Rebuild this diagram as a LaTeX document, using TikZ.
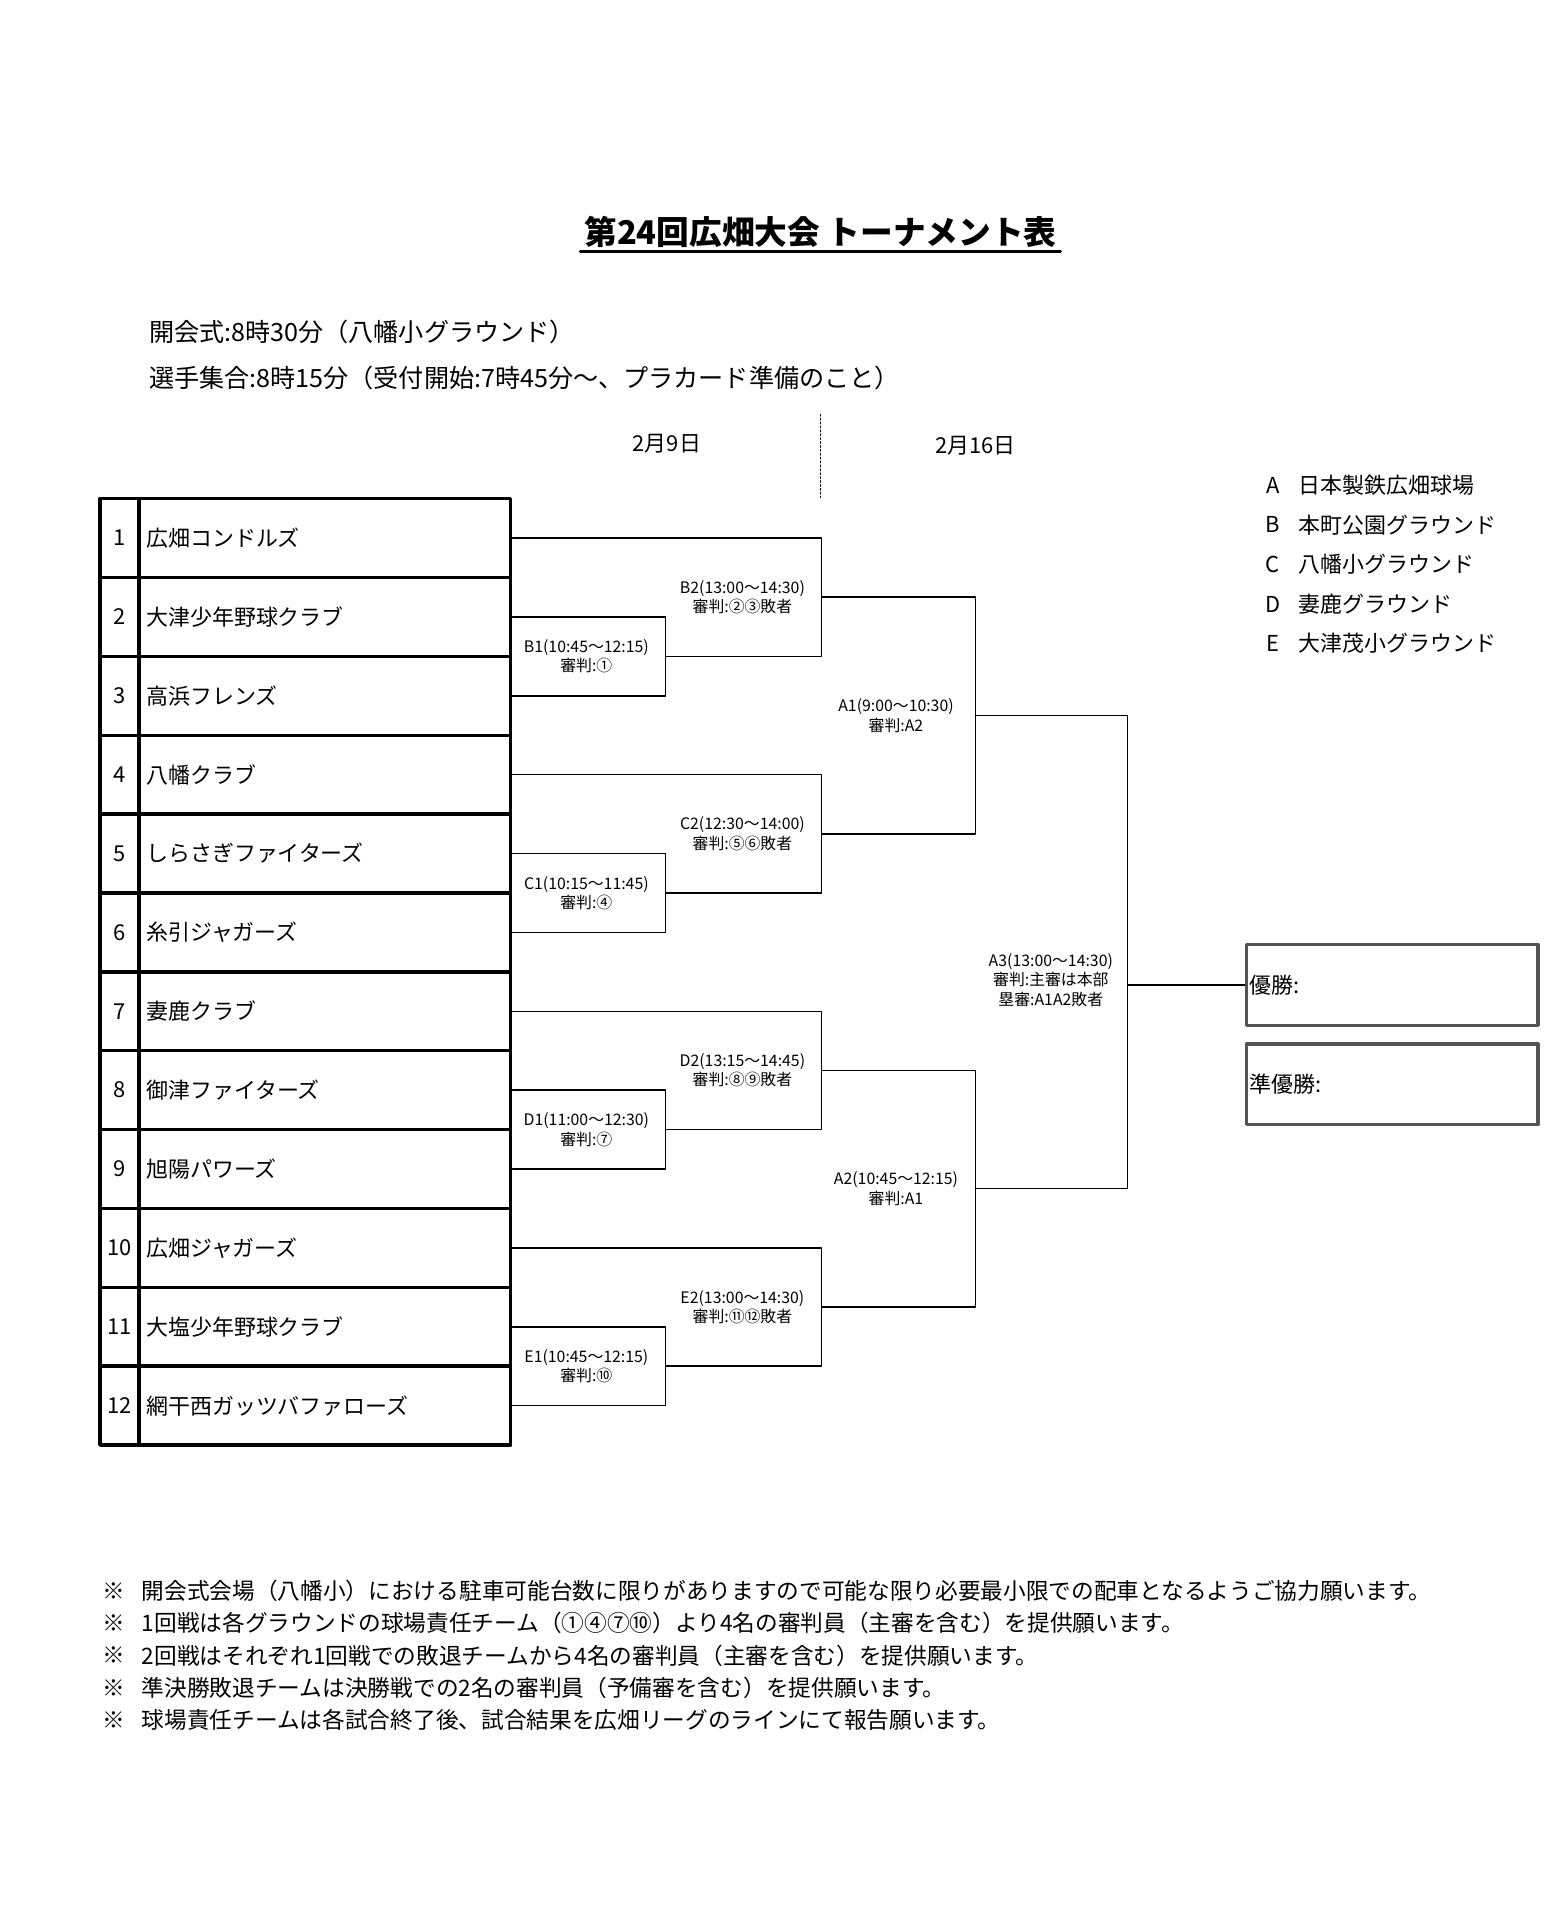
\documentclass[tikz,border=0pt]{standalone}
\usepackage{fontspec}
\setmainfont{Noto Sans CJK JP}
\usepackage{tikz}
\usetikzlibrary{positioning,calc}
\definecolor{boxgray}{rgb}{0.33,0.33,0.33}

\begin{document}
\begin{tikzpicture}[line cap=round,line join=round,x=0.5pt,y=-0.5pt,
    wire/.style={line width=0.6pt},
    cell/.style={draw,line width=1.4pt,minimum height=32.35pt,inner sep=0pt,font=\fontsize{9}{10}\selectfont},
    namecell/.style={cell,minimum width=152.5pt,text width=146.5pt,align=left},
    numcell/.style={cell,minimum width=16pt},
    gamelbl/.style={align=center,inner sep=0pt,font=\fontsize{6.5}{8}\selectfont},
    resultbox/.style={draw=boxgray,line width=1.4pt,minimum width=119.5pt,minimum height=33pt,text width=117pt,align=left,inner sep=1pt,font=\fontsize{9}{10}\selectfont},
    info/.style={anchor=west,inner sep=0pt,font=\fontsize{10.3}{12}\selectfont},
    note/.style={anchor=west,inner sep=0pt,font=\fontsize{9.3}{11}\selectfont}]
    \useasboundingbox (0,0) rectangle (1280,1575);

    % title and times
    \node[font=\bfseries\fontsize{13.4}{16}\selectfont,inner sep=1.5pt] (title) at (673,190) {第24回広畑大会 トーナメント表};
    \draw[line width=1.1pt] (title.south west) -- (title.south east);
    \node[info] (opening) at (122,272) {開会式:8時30分（八幡小グラウンド）};
    \node[info] (gather) at (122,310) {選手集合:8時15分（受付開始:7時45分〜、プラカード準備のこと）};

    % days
    \node[font=\fontsize{9}{10}\selectfont] (day1) at (547,364) {2月9日};
    \node[font=\fontsize{9}{10}\selectfont] (day2) at (800,366) {2月16日};
    \draw[densely dotted,line width=0.6pt] (673,340) -- (673,408);

    % grounds
    \foreach \k/\g [count=\j] in {A/日本製鉄広畑球場,B/本町公園グラウンド,C/八幡小グラウンド,D/妻鹿グラウンド,E/大津茂小グラウンド}
    {
      \node[font=\fontsize{9}{10}\selectfont] (key\k) at (1044,{398+32.5*(\j-1)}) {\k};
      \node[anchor=west,inner sep=0pt,font=\fontsize{9}{10}\selectfont] (ground\k) at (1065,{398+32.5*(\j-1)}) {\g};
    }

    % teams
    \foreach \i/\nm in {1/広畑コンドルズ,2/大津少年野球クラブ,3/高浜フレンズ,4/八幡クラブ,5/しらさぎファイターズ,6/糸引ジャガーズ,7/妻鹿クラブ,8/御津ファイターズ,9/旭陽パワーズ,10/広畑ジャガーズ,11/大塩少年野球クラブ,12/網干西ガッツバファローズ}
    {
      \node[numcell] (n\i) at (98,{441.35+64.7*(\i-1)}) {\i};
      \node[namecell] (t\i) at (266.5,{441.35+64.7*(\i-1)}) {\nm};
    }

    % bracket columns
    \coordinate (r1) at (546,0);
    \coordinate (r2) at (674,0);
    \coordinate (r3) at (800,0);
    \coordinate (r4) at (925,0);

    \coordinate (b1) at ($(r1 |- t2.east)!.5!(r1 |- t3.east)$);
    \coordinate (b2) at ($(r2 |- t1.east)!.5!(r2 |- b1)$);
    \coordinate (c1) at ($(r1 |- t5.east)!.5!(r1 |- t6.east)$);
    \coordinate (c2) at ($(r2 |- t4.east)!.5!(r2 |- c1)$);
    \coordinate (a1) at ($(r3 |- b2)!.5!(r3 |- c2)$);
    \coordinate (d1) at ($(r1 |- t8.east)!.5!(r1 |- t9.east)$);
    \coordinate (d2) at ($(r2 |- t7.east)!.5!(r2 |- d1)$);
    \coordinate (e1) at ($(r1 |- t11.east)!.5!(r1 |- t12.east)$);
    \coordinate (e2) at ($(r2 |- t10.east)!.5!(r2 |- e1)$);
    \coordinate (a2) at ($(r3 |- d2)!.5!(r3 |- e2)$);

    % result boxes
    \node[resultbox] (win) at (1142,808) {優勝:};
    \node[resultbox] (second) at (1142,889.5) {準優勝:};
    \coordinate (a3) at (r4 |- win.west);

    % bracket lines
    \draw[wire] (t2.east) -| (b1) |- (t3.east);
    \draw[wire] (t1.east) -| (b2) |- (b1);
    \draw[wire] (t5.east) -| (c1) |- (t6.east);
    \draw[wire] (t4.east) -| (c2) |- (c1);
    \draw[wire] (b2) -| (a1) |- (c2);
    \draw[wire] (t8.east) -| (d1) |- (t9.east);
    \draw[wire] (t7.east) -| (d2) |- (d1);
    \draw[wire] (t11.east) -| (e1) |- (t12.east);
    \draw[wire] (t10.east) -| (e2) |- (e1);
    \draw[wire] (d2) -| (a2) |- (e2);
    \draw[wire] (a1) -| (a3) |- (a2);
    \draw[wire] (a3) -- (win.west);

    % game labels
    \node[gamelbl] (lb1) at ($(b1)+(-65,0)$) {B1(10:45〜12:15)\\審判:①};
    \node[gamelbl] (lb2) at ($(b2)+(-65,0)$) {B2(13:00〜14:30)\\審判:②③敗者};
    \node[gamelbl] (lc1) at ($(c1)+(-65,0)$) {C1(10:15〜11:45)\\審判:④};
    \node[gamelbl] (lc2) at ($(c2)+(-65,0)$) {C2(12:30〜14:00)\\審判:⑤⑥敗者};
    \node[gamelbl] (la1) at ($(a1)+(-65,0)$) {A1(9:00〜10:30)\\審判:A2};
    \node[gamelbl] (ld1) at ($(d1)+(-65,0)$) {D1(11:00〜12:30)\\審判:⑦};
    \node[gamelbl] (ld2) at ($(d2)+(-65,0)$) {D2(13:15〜14:45)\\審判:⑧⑨敗者};
    \node[gamelbl] (le1) at ($(e1)+(-65,0)$) {E1(10:45〜12:15)\\審判:⑩};
    \node[gamelbl] (le2) at ($(e2)+(-65,0)$) {E2(13:00〜14:30)\\審判:⑪⑫敗者};
    \node[gamelbl] (la2) at ($(a2)+(-65,0)$) {A2(10:45〜12:15)\\審判:A1};
    \node[gamelbl] (la3) at ($(a3)+(-63,-4)$) {A3(13:00〜14:30)\\審判:主審は本部\\塁審:A1A2敗者};

    % notes
    \foreach \txt [count=\j] in {開会式会場（八幡小）における駐車可能台数に限りがありますので可能な限り必要最小限での配車となるようご協力願います。,1回戦は各グラウンドの球場責任チーム（①④⑦⑩）より4名の審判員（主審を含む）を提供願います。,2回戦はそれぞれ1回戦での敗退チームから4名の審判員（主審を含む）を提供願います。,準決勝敗退チームは決勝戦での2名の審判員（予備審を含む）を提供願います。,球場責任チームは各試合終了後、試合結果を広畑リーグのラインにて報告願います。}
    {
      \node[note] (mark\j) at (84,{1305+26.5*(\j-1)}) {※};
      \node[note] (note\j) at (116,{1305+26.5*(\j-1)}) {\txt};
    }
\end{tikzpicture}
\end{document}
